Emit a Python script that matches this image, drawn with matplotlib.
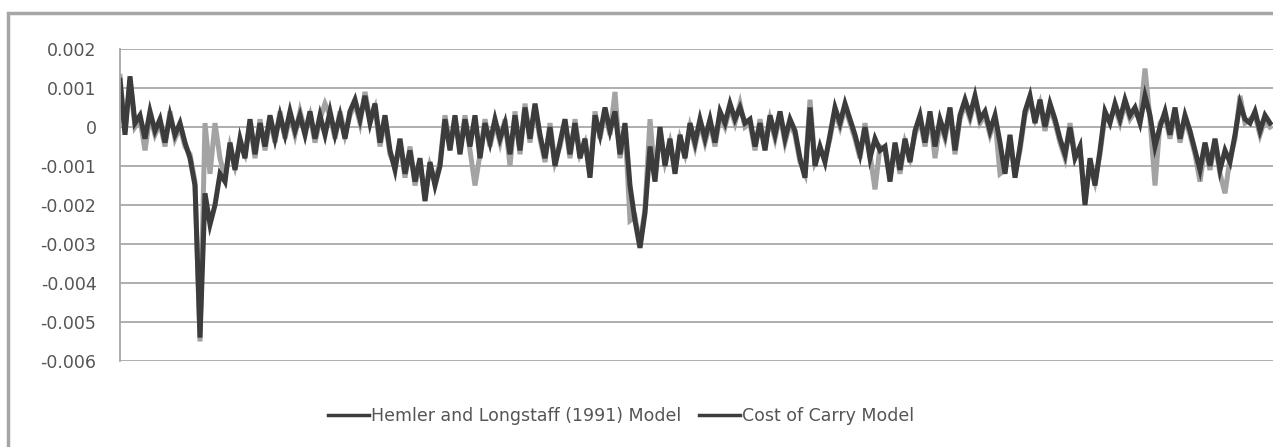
import numpy as np
import matplotlib
matplotlib.use("Agg")
import matplotlib.pyplot as plt
from matplotlib.lines import Line2D
from matplotlib.patches import Rectangle

# values, in units of 1e-4 (one point every ~5 px)
cost_of_carry = [
    12, -2, 13, 1,
    3, -3, 4, -1, 2, -4, 3, -2, 1, -4,
    -8, -15, -54, -17, -25, -20, -12,
    -14, -4, -11, -3, -8,
    2, -7, 1, -5, 3, -3,
    3, -2, 4, -1, 3, -2, 4,
    -3, 3, -2, 4, -2, 3, -3, 4,
    7, 2, 8, 1, 6, -4, 3,
    -6, -11, -3, -12, -6, -14, -8, -19, -9, -15, -10, 2, -6,
    3, -7, 2, -5, 3, -8, 1, -4, 2, -3, 1,
    -7, 3, -6, 5, -3, 6,
    -2, -8, 0, -10, -4, 2, -7, 1, -8, -3, -13,
    3, -2, 5, -1, 4, -7, 1, -15, -24, -31, -22,
    -5, -14, 0, -10, -3, -12, -2, -8, 1, -4, 2,
    -3, 2, -4, 4, 1, 6, 2, 5, 1,
    2, -5, 1, -6, 3, -2, 4, -3, 2, -1,
    -8, -13, 5, -10, -5, -9, -2, 5, 1, 6, 2,
    -2, -7, 0, -8, -3, -6, -5, -14, -4,
    -11, -3, -9, -1, 3, -4, 4, -5, 2, -2, 5, -6, 3,
    7, 3, 8, 2, 4, -1, 3,
    -4, -12, -2, -13, -5, 4, 8, 1, 7, 0, 6, 2,
    -3, -7, 0, -8, -5, -20, -8, -15, -6,
    4, 1, 6, 2, 7, 3, 5, 1, 8, 3, -5, 0,
    4, -2, 5, -3, 3, -1, -6, -11, -4,
    -10, -3, -11, -6, -9, -2, 6, 2, 1, 4, -1, 3, 1,
]
hemler_longstaff = [
    13, -1, 12, 0,
    2, -6, 3, -2, 1, -5, 4, -3, 0, -5,
    -7, -14, -55, 1, -12, 1, -8,
    -13, -5, -10, -4, -7,
    1, -8, 2, -6, 2, -4,
    4, -3, 3, -2, 4, -1, 3,
    -4, 2, 6, 3, -3, 4, -2, 3,
    6, 1, 9, 2, 5, -5, 2,
    -7, -10, -4, -13, -5, -15, -9, -18, -10, -14, -9, 3, -5,
    2, -6, 3, -6, -15, -7, 2, -5, 1, -4, 2,
    -10, 4, -7, 6, -4, 5,
    -3, -9, 1, -9, -5, 1, -8, 2, -7, -4, -12,
    4, -3, 4, -2, 9, -8, 0, -24, -23, -30, -21,
    2, -13, -1, -9, -4, -11, -3, -7, 0, -5, 1,
    -4, 1, -5, 3, 0, 5, 1, 6, 0,
    1, -6, 2, -5, 2, -3, 3, -4, 1, -2,
    -9, -12, 7, -9, -6, -8, -3, 4, 0, 5, 1,
    -3, -8, 1, -7, -16, -5, -6, -13, -5,
    -12, -4, -8, -2, 2, -5, 3, -8, 1, -3, 4, -7, 2,
    6, 2, 7, 1, 3, -2, 2,
    -12, -11, -3, -12, -6, 3, 7, 2, 6, -1, 5, 1,
    -4, -8, 1, -7, -6, -19, -9, -14, -7,
    3, 2, 5, 1, 6, 2, 4, 2, 15, 2, -15, 1,
    3, -3, 4, -4, 2, -2, -7, -14, -5,
    -11, -4, -12, -17, -8, -3, 8, 1, 2, 3, -2, 2, 0,
]
series_labels = ["Hemler and Longstaff (1991) Model", "Cost of Carry Model"]
y_ticks = [0.002, 0.001, 0, -0.001, -0.002, -0.003, -0.004, -0.005, -0.006]
y_ticklabels = ["0.002", "0.001", "0", "-0.001", "-0.002", "-0.003", "-0.004", "-0.005", "-0.006"]

W, H = 1273, 447
fig = plt.figure(figsize=(W / 100, H / 100), dpi=100)
fig.patch.set_facecolor("white")

# chart frame (only top and left edges fall inside the crop)
fig.patches.append(Rectangle((8 / W, -0.1), 1.2, 1 - 13 / H + 0.1, transform=fig.transFigure,
                             fill=False, edgecolor="#a6a6a6", linewidth=2.5))

ax = fig.add_axes([120 / W, 1 - 361 / H, 1 - 120 / W, (361 - 49) / H])
hl = np.array(hemler_longstaff) * 1e-4
cc = np.array(cost_of_carry) * 1e-4
x = np.arange(len(cc))
ax.plot(np.arange(len(hl)), hl, color="#a3a3a3", linewidth=3.6, solid_joinstyle="miter")
ax.plot(x, cc, color="#3c3c3c", linewidth=3.6, solid_joinstyle="miter")

ax.set_xlim(0, len(cc) - 1 + 0.6)
ax.set_ylim(-0.006, 0.002)
ax.set_yticks(y_ticks)
ax.set_yticklabels(y_ticklabels)
ax.set_xticks([])
ax.grid(axis="y", color="#a8a8a8", linewidth=1.3)
ax.set_axisbelow(True)
for s in ["top", "right", "bottom"]:
    ax.spines[s].set_visible(False)
ax.spines["left"].set_color("#a8a8a8")
ax.spines["left"].set_linewidth(1.3)
ax.tick_params(axis="y", length=0, pad=17, labelsize=12.5, labelcolor="#555555")

handles = [Line2D([], [], color="#3c3c3c", linewidth=2.5) for _ in series_labels]
fig.legend(handles, series_labels, loc="center", bbox_to_anchor=(621 / W, 1 - 416 / H),
           ncol=2, frameon=False, fontsize=12.5, labelcolor="#555555",
           handlelength=2.4, handletextpad=0.1, columnspacing=1.0)

fig.savefig("out.png", dpi=100)
